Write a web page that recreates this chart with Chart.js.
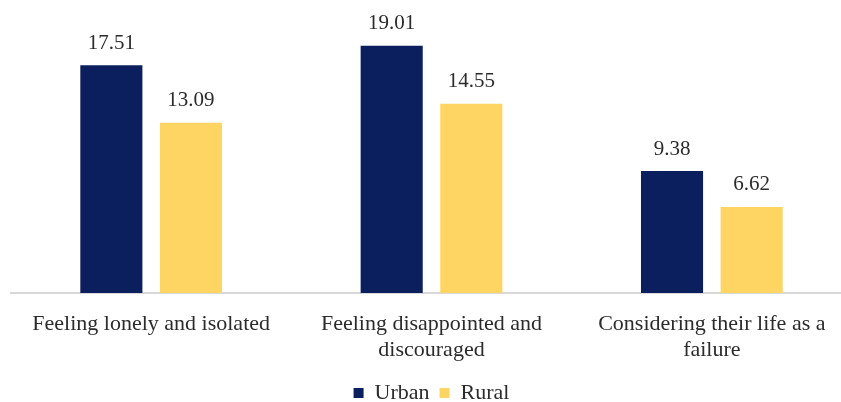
<!DOCTYPE html>
<html>
<head>
<meta charset="utf-8">
<script src="https://cdn.jsdelivr.net/npm/chart.js@4"></script>
<style>
  html, body { margin: 0; padding: 0; background: #fff; overflow: hidden; }
  #wrap { position: relative; width: 852px; height: 414px; }
</style>
</head>
<body>
<div id="wrap"><canvas id="mycanvas"></canvas></div>
<script>
var categories = [
	"Feeling lonely and isolated",
	["Feeling disappointed and", "discouraged"],
	["Considering their life as a", "failure"]
];
var urban = [17.51, 19.01, 9.38];
var rural = [13.09, 14.55, 6.62];

// writes each bar's value just above it
var valueLabels = {
	id: "valueLabels",
	afterDatasetsDraw: function(chart) {
		var ctx = chart.ctx;
		ctx.save();
		ctx.font = "21px 'Liberation Serif', 'Times New Roman', serif";
		ctx.fillStyle = "#2b2b2b";
		ctx.textAlign = "center";
		ctx.textBaseline = "middle";
		chart.data.datasets.forEach(function(ds, i) {
			var meta = chart.getDatasetMeta(i);
			meta.data.forEach(function(bar, j) {
				ctx.fillText(ds.data[j].toFixed(2), bar.x, bar.y - 22);
			});
		});
		ctx.restore();
	}
};

var chartdata = {
	labels: categories,
	datasets: [
		{
			label: "Urban",
			backgroundColor: "#0b1f5e",
			data: urban
		},
		{
			label: "Rural",
			backgroundColor: "#fed463",
			data: rural
		}
	]
};

var ctx = document.getElementById("mycanvas");

var BarGraph = new Chart(ctx, {
	type: 'bar',
	data: chartdata,
	plugins: [valueLabels],
	options: {
		responsive: true,
		maintainAspectRatio: false,
		animation: false,
		layout: { padding: { left: 11, right: 0, top: 7, bottom: 0 } },
		datasets: {
			bar: { categoryPercentage: 0.568, barPercentage: 0.78 }
		},
		scales: {
			x: {
				grid: { display: false, drawTicks: false },
				border: { display: true, color: "#d9d9d9", width: 2 },
				afterFit: function(scale) { scale.height = 79; },
				ticks: {
					color: "#2b2b2b",
					padding: 18,
					maxRotation: 0,
					font: { family: "'Liberation Serif', 'Times New Roman', serif", size: 22 }
				}
			},
			y: {
				display: false,
				min: 0,
				max: 22
			}
		},
		plugins: {
			legend: {
				position: 'bottom',
				labels: {
					boxWidth: 10,
					boxHeight: 10,
					padding: 10,
					color: "#2b2b2b",
					font: { family: "'Liberation Serif', 'Times New Roman', serif", size: 22 }
				}
			},
			tooltip: { enabled: false }
		}
	}
});
</script>
</body>
</html>
